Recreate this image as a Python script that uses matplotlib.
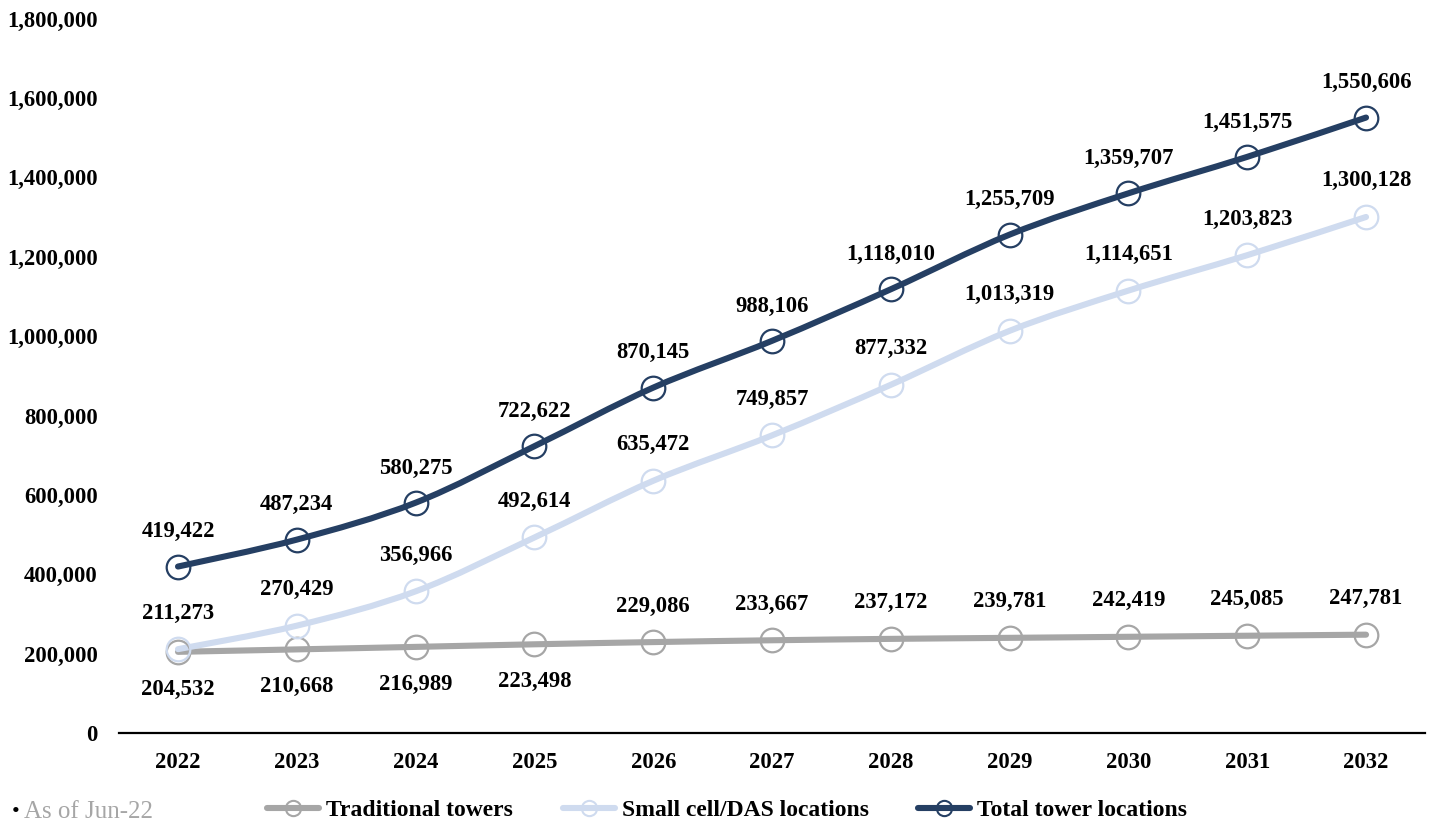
import numpy as np
import matplotlib.pyplot as plt
from matplotlib.path import Path
from matplotlib.patches import PathPatch
from matplotlib.lines import Line2D
from matplotlib.ticker import FuncFormatter

years = [2022, 2023, 2024, 2025, 2026, 2027, 2028, 2029, 2030, 2031, 2032]
traditional = [204532, 210668, 216989, 223498, 229086, 233667, 237172, 239781, 242419, 245085, 247781]
small_cell = [211273, 270429, 356966, 492614, 635472, 749857, 877332, 1013319, 1114651, 1203823, 1300128]
total = [419422, 487234, 580275, 722622, 870145, 988106, 1118010, 1255709, 1359707, 1451575, 1550606]

c_trad = "#A6A6A6"
c_small = "#CFDBEF"
c_total = "#253F63"

plt.rcParams['font.family'] = ['Liberation Serif', 'DejaVu Serif']

fig = plt.figure(figsize=(14.29, 8.25), dpi=100)
ax = fig.add_axes([0.083, 0.1115, 0.9145, 0.866])

x = np.arange(len(years))


def smooth_path(xs, ys):
    # excel-like smoothed line as cubic bezier segments through the data points
    pts = np.column_stack([xs, ys]).astype(float)
    n = len(pts)
    verts = [pts[0]]
    codes = [Path.MOVETO]
    for i in range(n - 1):
        p0 = pts[i - 1] if i > 0 else pts[i]
        p1 = pts[i]
        p2 = pts[i + 1]
        p3 = pts[i + 2] if i + 2 < n else pts[i + 1]
        c1 = p1 + (p2 - p0) / 6.0
        c2 = p2 - (p3 - p1) / 6.0
        verts += [c1, c2, p2]
        codes += [Path.CURVE4] * 3
    return Path(verts, codes)


series = [(traditional, c_trad, "Traditional towers"),
          (small_cell, c_small, "Small cell/DAS locations"),
          (total, c_total, "Total tower locations")]

handles = []
for i, (vals, col, name) in enumerate(series):
    patch = PathPatch(smooth_path(x, vals), fill=False, edgecolor=col, lw=4.4,
                      capstyle='round', joinstyle='round', zorder=2 + i)
    ax.add_patch(patch)
    ax.plot(x, vals, ls='none', marker='o', ms=17, mfc='none', mec=col, mew=1.6, zorder=5 + i)
    handles.append(Line2D([], [], color=col, lw=4.4, marker='o', ms=11, mfc='none', mec=col, mew=1.5,
                          solid_capstyle='round', label=name))

lbl_kw = dict(ha='center', va='center', fontsize=16.3, fontweight='bold', color='black', zorder=10)
for i in range(len(years)):
    ax.annotate(f"{total[i]:,}", (x[i], total[i]), xytext=(0, 25), textcoords='offset points', **lbl_kw)
    ax.annotate(f"{small_cell[i]:,}", (x[i], small_cell[i]), xytext=(0, 26), textcoords='offset points', **lbl_kw)
    off = -27 if i < 4 else 26
    ax.annotate(f"{traditional[i]:,}", (x[i], traditional[i]), xytext=(0, off), textcoords='offset points', **lbl_kw)

ax.set_xlim(-0.5, len(years) - 0.5)
ax.set_ylim(0, 1800000)
ax.set_yticks(np.arange(0, 1800001, 200000))
ax.yaxis.set_major_formatter(FuncFormatter(lambda v, p: f"{int(v):,}"))
ax.set_xticks(x)
ax.set_xticklabels([str(y) for y in years])

for s in ['top', 'right', 'left']:
    ax.spines[s].set_visible(False)
ax.spines['bottom'].set_color('black')
ax.spines['bottom'].set_linewidth(1.6)
ax.tick_params(axis='both', length=0, labelsize=16.3, colors='black')
ax.tick_params(axis='x', pad=14)
ax.tick_params(axis='y', pad=15)
for t in ax.get_xticklabels() + ax.get_yticklabels():
    t.set_fontweight('bold')

fig.legend(handles=handles, loc='center', bbox_to_anchor=(0.509, 0.018), ncol=3, frameon=False,
           prop={'weight': 'bold', 'size': 17}, handlelength=2.2, handletextpad=0.3,
           columnspacing=2.1, borderaxespad=0)

fig.text(0.008, 0.004, "\u2022", fontsize=16, color='black', va='bottom', ha='left')
fig.text(0.017, 0.002, "As of Jun-22", fontsize=18, color='#A6A6A6', va='bottom', ha='left')

fig.savefig("out.png", dpi=100)
